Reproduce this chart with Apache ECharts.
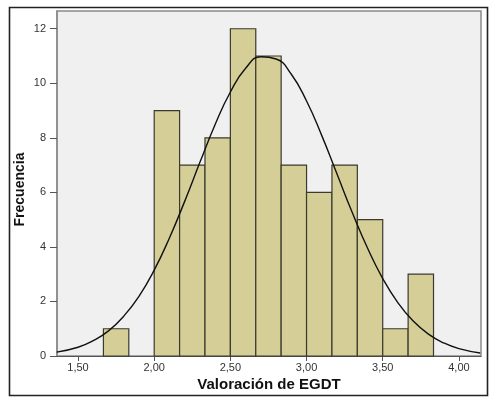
<!DOCTYPE html>
<html><head><meta charset="utf-8">
<script src="https://cdn.jsdelivr.net/npm/echarts@6/dist/echarts.min.js"></script>
<style>html,body{margin:0;padding:0;background:#fff}#c{width:491px;height:399px}</style>
</head><body><div id="c"></div>
<script>
// Histogram bins (lower/upper edges) and their frequencies
const binStarts = [1.6667, 1.8333, 2.0, 2.1667, 2.3333, 2.5, 2.6667, 2.8333, 3.0, 3.1667, 3.3333, 3.5, 3.6667];
const binEnds   = [1.8333, 2.0, 2.1667, 2.3333, 2.5, 2.6667, 2.8333, 3.0, 3.1667, 3.3333, 3.5, 3.6667, 3.8333];
const counts    = [1, 0, 9, 7, 8, 12, 11, 7, 6, 7, 5, 1, 3];
// Normal curve
const curveX = [1.36, 1.5, 1.6, 1.7, 1.8, 1.9, 2.0, 2.1, 2.2, 2.3, 2.4, 2.5, 2.6, 2.7, 2.8, 2.9, 3.0, 3.1, 3.2, 3.3, 3.4, 3.5, 3.6, 3.7, 3.8, 3.9, 4.0, 4.14];
const curveY = [0.14, 0.32, 0.56, 0.92, 1.46, 2.19, 3.15, 4.33, 5.67, 7.10, 8.49, 9.68, 10.55, 10.97, 10.89, 10.33, 9.35, 8.08, 6.67, 5.26, 3.96, 2.84, 1.95, 1.28, 0.80, 0.48, 0.27, 0.11];
const xTicks = [1.5, 2.0, 2.5, 3.0, 3.5, 4.0];
const yTicks = [0, 2, 4, 6, 8, 10, 12];

const chart = echarts.init(document.getElementById('c'), null, {renderer: 'canvas'});
const font = 'Liberation Sans, Arial, sans-serif';
chart.setOption({
  animation: false,
  backgroundColor: '#fff',
  graphic: [{
    type: 'rect', left: 7, top: 5, z: -10,
    shape: {width: 478, height: 388},
    style: {fill: 'none', stroke: '#222', lineWidth: 1.6}
  }],
  grid: {left: 57, right: 10, top: 11, bottom: 43, show: true,
         backgroundColor: '#f0f0f0', borderColor: '#8a8a8a', borderWidth: 1.5},
  xAxis: {
    type: 'value', min: 1.362, max: 4.145,
    name: 'Valoración de EGDT', nameLocation: 'middle', nameGap: 21, nameMoveOverlap: false,
    nameTextStyle: {fontFamily: font, fontWeight: 'bold', fontSize: 15, color: '#111'},
    splitLine: {show: false},
    axisLine: {show: true, onZero: false, lineStyle: {color: '#555', width: 1}},
    axisTick: {show: true, length: 5, customValues: xTicks, lineStyle: {color: '#555'}},
    axisLabel: {customValues: xTicks, margin: 6, fontFamily: font, fontSize: 11, color: '#333',
                formatter: v => v.toFixed(2).replace('.', ',')}
  },
  yAxis: {
    type: 'value', min: 0, max: 12.65,
    name: 'Frecuencia', nameLocation: 'middle', nameGap: 30, nameMoveOverlap: false,
    nameTextStyle: {fontFamily: font, fontWeight: 'bold', fontSize: 14, color: '#111', padding: [0, 12, 0, 0]},
    splitLine: {show: false},
    axisLine: {show: true, lineStyle: {color: '#8a8a8a', width: 1.5}},
    axisTick: {show: true, length: 7, customValues: yTicks, lineStyle: {color: '#555'}},
    axisLabel: {customValues: yTicks, margin: 11, fontFamily: font, fontSize: 11, color: '#333'}
  },
  series: [{
    type: 'custom',
    data: binStarts.map((s, i) => [s, binEnds[i], counts[i]]),
    renderItem: function (params, api) {
      const c = api.value(2);
      if (!c) return null;
      const p0 = api.coord([api.value(0), 0]);
      const p1 = api.coord([api.value(1), c]);
      return {
        type: 'rect',
        shape: {x: p0[0], y: p1[1], width: p1[0] - p0[0], height: p0[1] - p1[1]},
        style: {fill: '#d5cf97', stroke: '#3a3a30', lineWidth: 1.2}
      };
    },
    z: 2
  }, {
    type: 'line',
    data: curveX.map((x, i) => [x, curveY[i]]),
    smooth: true, showSymbol: false, symbol: 'none',
    lineStyle: {color: '#111', width: 1.4},
    z: 3
  }]
});
</script>
</body></html>
